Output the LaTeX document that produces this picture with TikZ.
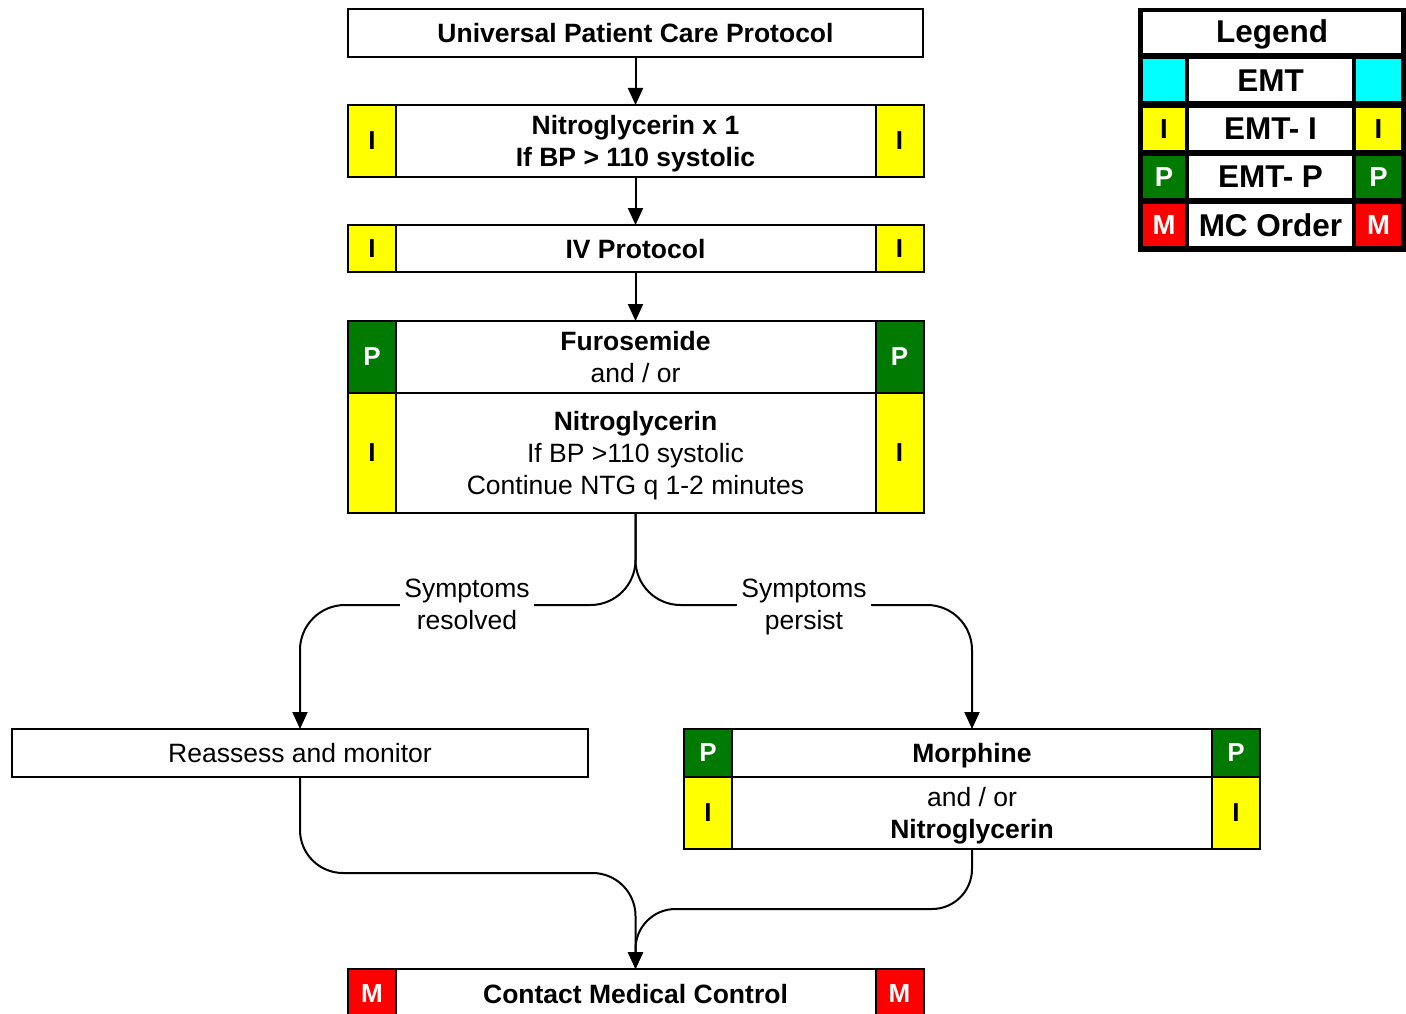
\documentclass[tikz,border=0pt]{standalone}
\usepackage{fontspec}
\setmainfont{Liberation Sans}
\usetikzlibrary{arrows.meta}
\definecolor{pgreen}{HTML}{007A00}
\definecolor{cyanc}{HTML}{00FFFF}
\definecolor{yel}{HTML}{FFFF00}
\definecolor{redc}{HTML}{FF0000}
\begin{document}
\begin{tikzpicture}[x=1pt,y=-1pt,
  every node/.style={font=\fontsize{26.5}{32}\selectfont, align=center, inner sep=0pt, outer sep=0pt},
  mainbox/.style={draw=black, line width=2pt, fill=white, minimum width=#1, text depth=0pt},
  mainbox/.default=575pt,
  sidebox/.style={draw=black, line width=2pt, minimum width=48pt, font=\fontsize{26}{30}\selectfont\bfseries},
  ibox/.style={sidebox, fill=yel},
  pbox/.style={sidebox, fill=pgreen, text=white},
  mbox/.style={sidebox, fill=redc, text=white},
  lab/.style={fill=white, inner xsep=4pt, inner ysep=2pt},
  conn/.style={line width=2pt},
  arr/.style={conn, -{Triangle[length=17pt,width=15pt]}},
  legcell/.style={minimum height=42pt, font=\fontsize{31.5}{36}\selectfont\bfseries},
  legside/.style={legcell, font=\fontsize{27.5}{30}\selectfont\bfseries}
]
\useasboundingbox (0,0) rectangle (1406,1014);

% main boxes
\node[mainbox, minimum height=48pt] (univ) at (635.5,33) {\textbf{Universal Patient Care Protocol}};
\node[mainbox, minimum height=72pt] (nitro) at (635.5,141) {\textbf{Nitroglycerin x 1}\\\textbf{If BP > 110 systolic}};
\node[ibox, minimum height=72pt] (nitroL) at (372,141) {I};
\node[ibox, minimum height=72pt] (nitroR) at (899.5,141) {I};
\node[mainbox, minimum height=47pt] (iv) at (635.5,248.5) {\textbf{IV Protocol}};
\node[ibox, minimum height=47pt] (ivL) at (372,248.5) {I};
\node[ibox, minimum height=47pt] (ivR) at (899.5,248.5) {I};

\node[mainbox, minimum height=72pt] (furoA) at (635.5,357) {\textbf{Furosemide}\\and / or};
\node[mainbox, minimum height=120pt] (furoB) at (635.5,453) {\textbf{Nitroglycerin}\\If BP >110 systolic\\Continue NTG q 1-2 minutes};
\node[pbox, minimum height=72pt] (furoAL) at (372,357) {P};
\node[pbox, minimum height=72pt] (furoAR) at (899.5,357) {P};
\node[ibox, minimum height=120pt] (furoBL) at (372,453) {I};
\node[ibox, minimum height=120pt] (furoBR) at (899.5,453) {I};

\node[mainbox=576pt, minimum height=48pt] (reas) at (300,753) {Reassess and monitor};

\node[mainbox=576pt, minimum height=48pt] (morA) at (972,753) {\textbf{Morphine}};
\node[mainbox=576pt, minimum height=72pt] (morB) at (972,813) {and / or\\\textbf{Nitroglycerin}};
\node[pbox, minimum height=48pt] (morAL) at (708,753) {P};
\node[pbox, minimum height=48pt] (morAR) at (1236,753) {P};
\node[ibox, minimum height=72pt] (morBL) at (708,813) {I};
\node[ibox, minimum height=72pt] (morBR) at (1236,813) {I};

\node[mainbox, minimum height=49pt] (contact) at (635.5,993.5) {\textbf{Contact Medical Control}};
\node[mbox, minimum height=49pt] (contactL) at (372,993.5) {M};
\node[mbox, minimum height=49pt] (contactR) at (899.5,993.5) {M};

% connectors
\draw[arr] (univ.south) -- (nitro.north);
\draw[arr] (nitro.south) -- (iv.north);
\draw[arr] (iv.south) -- (furoA.north);

\coordinate (split) at (635.5,605);
\draw[arr, rounded corners=45pt] (furoB.south) -- (split) -| (reas.north);
\draw[arr, rounded corners=45pt] (furoB.south) -- (split) -| (morA.north);
\node[lab, text depth=0pt] (labL) at (467,604) {Symptoms\\resolved};
\node[lab, text depth=0pt] (labR) at (804,604) {Symptoms\\persist};

\coordinate (j1) at (635.5,873);
\coordinate (j2) at (635.5,909);
\draw[arr, rounded corners=43pt] (reas.south) |- (j1) -- (contact.north);
\draw[arr, rounded corners=40pt] (morB.south) |- (j2) -- (contact.north);

% legend
\node[fill=black, minimum width=268pt, minimum height=244pt] (legend) at (1272,130) {};
\node[legcell, fill=white, minimum width=258pt, minimum height=41pt, text depth=2.5pt] (legT) at (1272,32.5) {Legend};
\node[legside, fill=cyanc, minimum width=42pt] (l1L) at (1164,80.5) {};
\node[legcell, fill=white, minimum width=163pt] (l1M) at (1270.5,80.5) {EMT};
\node[legside, fill=cyanc, minimum width=45pt] (l1R) at (1378.5,80.5) {};
\node[legside, fill=yel, minimum width=42pt] (l2L) at (1164,129) {I};
\node[legcell, fill=white, minimum width=163pt] (l2M) at (1270.5,129) {EMT- I};
\node[legside, fill=yel, minimum width=45pt] (l2R) at (1378.5,129) {I};
\node[legside, fill=pgreen, text=white, minimum width=42pt] (l3L) at (1164,177) {P};
\node[legcell, fill=white, minimum width=163pt] (l3M) at (1270.5,177) {EMT- P};
\node[legside, fill=pgreen, text=white, minimum width=45pt] (l3R) at (1378.5,177) {P};
\node[legside, fill=redc, text=white, minimum width=42pt] (l4L) at (1164,225) {M};
\node[legcell, fill=white, minimum width=163pt] (l4M) at (1270.5,225) {MC Order};
\node[legside, fill=redc, text=white, minimum width=45pt] (l4R) at (1378.5,225) {M};
\end{tikzpicture}
\end{document}
